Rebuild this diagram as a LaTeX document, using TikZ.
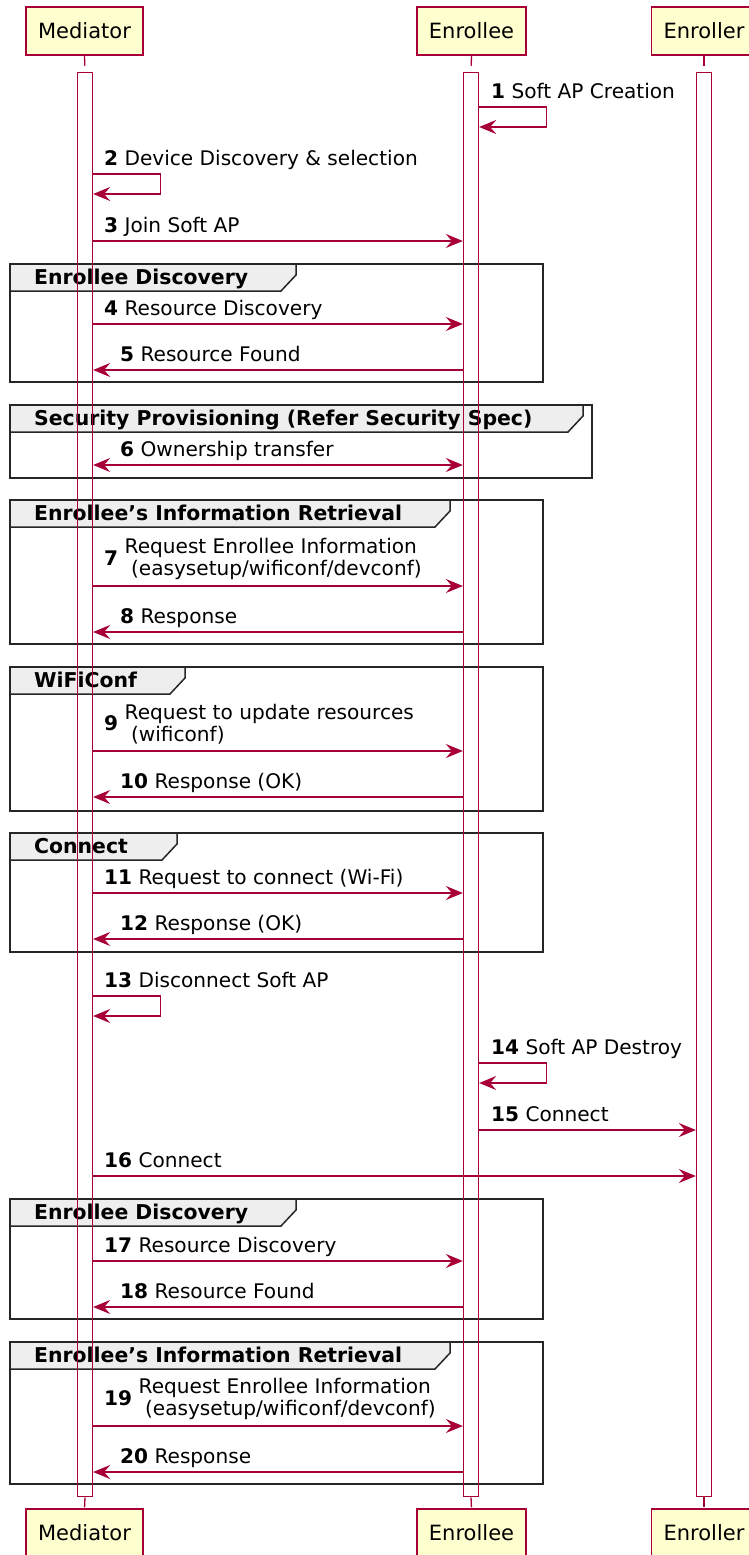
\documentclass[tikz,border=0pt]{standalone}
\usepackage{fontspec}
\setmainfont{DejaVu Sans}
\usepackage{xcolor}
\usepackage{tikz}
\usetikzlibrary{arrows.meta}
\usetikzlibrary{positioning,calc}

\definecolor{umlred}{HTML}{A80036}
\definecolor{umlfill}{HTML}{FEFECE}
\definecolor{grpfill}{HTML}{EEEEEE}

% group frame: name, top, bottom, right, tab right, label
\newcommand{\umlgroup}[6]{%
	\draw[frame] (10,#2) rectangle (#4,#3);
	\draw[frame, fill=grpfill] (10,#2) -- (#5,#2) -- (#5,#2+11) -- (#5-15,#2+27) -- (10,#2+27) -- cycle;
	\node[grplbl] (#1) at (34,#2+20) {#6};
}

\begin{document}
\begin{tikzpicture}[x=1pt, y=-1pt,
		umltip/.tip={Stealth[length=17pt, width=14pt, inset=6pt]},
		actor/.style={draw=umlred, fill=umlfill, line width=1.5pt, minimum height=48, inner xsep=12pt, font=\fontsize{21}{24}\selectfont},
		bar/.style={draw=umlred, line width=1.3pt, minimum width=15, minimum height=1424, anchor=north, inner sep=0},
		life/.style={draw=umlred, line width=1.3pt, dash pattern=on 10pt off 7pt},
		msg/.style={draw=umlred, line width=1.3pt, -umltip},
		lbl/.style={anchor=base west, inner sep=0, align=left, font=\fontsize{20.1}{22}\selectfont},
		frame/.style={draw=black!85, line width=1.5pt},
		grplbl/.style={anchor=base west, inner sep=0, font=\bfseries\fontsize{20.4}{22}\selectfont}]
		\useasboundingbox (0,0) rectangle (748,1555);
		
		% groups
		\umlgroup{g1}{264}{382}{543}{296}{Enrollee Discovery}
		\umlgroup{g2}{405}{478}{592}{583}{Security Provisioning (Refer Security Spec)}
		\umlgroup{g3}{500}{644}{543}{450}{Enrollee’s Information Retrieval}
		\umlgroup{g4}{667}{811}{543}{185}{WiFiConf}
		\umlgroup{g5}{833}{952}{543}{177}{Connect}
		\umlgroup{g6}{1199}{1319}{543}{296}{Enrollee Discovery}
		\umlgroup{g7}{1342}{1484}{543}{450}{Enrollee’s Information Retrieval}
		
		% participants
		\node[actor] (medtop) at (84.5,31) {Mediator};
		\node[actor] (enrtop) at (471.5,31) {Enrollee};
		\node[actor] (erltop) at (704,31) {Enroller};
		\node[actor] (medbot) at (84.5,1533) {Mediator};
		\node[actor] (enrbot) at (471.5,1533) {Enrollee};
		\node[actor] (erlbot) at (704,1533) {Enroller};
		
		\node[bar] (medbar) at (85,72) {};
		\node[bar] (enrbar) at (471,72) {};
		\node[bar] (erlbar) at (704,72) {};
		
		\draw[life] (medtop.south) -- (medbar.north);
		\draw[life] (enrtop.south) -- (enrbar.north);
		\draw[life] (erltop.south) -- (erlbar.north);
		\draw[life] (medbar.south) -- (medbot.north);
		\draw[life] (enrbar.south) -- (enrbot.north);
		\draw[life] (erlbar.south) -- (erlbot.north);
		
		% messages
		\draw[msg] (enrbar.east |- 0,107) -- ++(67,0) -- ++(0,20) -- (enrbar.east |- 0,127);
		\node[lbl] (m1) at (491,98) {\textbf{1} Soft AP Creation};
		\draw[msg] (medbar.east |- 0,174) -- ++(67,0) -- ++(0,20) -- (medbar.east |- 0,194);
		\node[lbl] (m2) at (104,165) {\textbf{2} Device Discovery \& selection};
		\draw[msg] (medbar.east |- 0,241) -- (enrbar.west |- 0,241);
		\node[lbl] (m3) at (104,232) {\textbf{3} Join Soft AP};
		
		\draw[msg] (medbar.east |- 0,324) -- (enrbar.west |- 0,324);
		\node[lbl] (m4) at (104,315) {\textbf{4} Resource Discovery};
		\draw[msg] (enrbar.west |- 0,370) -- (medbar.east |- 0,370);
		\node[lbl] (m5) at (120,361) {\textbf{5} Resource Found};
		
		\draw[msg, umltip-umltip] (medbar.east |- 0,465) -- (enrbar.west |- 0,465);
		\node[lbl] (m6) at (120,456) {\textbf{6} Ownership transfer};
		
		\draw[msg] (medbar.east |- 0,586) -- (enrbar.west |- 0,586);
		\node[lbl] (m7) at (104,565) {\textbf{7}};
		\node[lbl] (m7t) at (124.5,575) {Request Enrollee Information\\\hspace*{6.4pt}(easysetup/wificonf/devconf)};
		\draw[msg] (enrbar.west |- 0,632) -- (medbar.east |- 0,632);
		\node[lbl] (m8) at (120,623) {\textbf{8} Response};
		
		\draw[msg] (medbar.east |- 0,751) -- (enrbar.west |- 0,751);
		\node[lbl] (m9) at (104,730) {\textbf{9}};
		\node[lbl] (m9t) at (124.5,741) {Request to update resources\\\hspace*{6.4pt}(wificonf)};
		\draw[msg] (enrbar.west |- 0,797) -- (medbar.east |- 0,797);
		\node[lbl] (m10) at (120,788) {\textbf{10} Response (OK)};
		
		\draw[msg] (medbar.east |- 0,893) -- (enrbar.west |- 0,893);
		\node[lbl] (m11) at (104,884) {\textbf{11} Request to connect (Wi-Fi)};
		\draw[msg] (enrbar.west |- 0,939) -- (medbar.east |- 0,939);
		\node[lbl] (m12) at (120,930) {\textbf{12} Response (OK)};
		
		\draw[msg] (medbar.east |- 0,996) -- ++(67,0) -- ++(0,20) -- (medbar.east |- 0,1016);
		\node[lbl] (m13) at (104,987) {\textbf{13} Disconnect Soft AP};
		\draw[msg] (enrbar.east |- 0,1063) -- ++(67,0) -- ++(0,20) -- (enrbar.east |- 0,1083);
		\node[lbl] (m14) at (491,1054) {\textbf{14} Soft AP Destroy};
		\draw[msg] (enrbar.east |- 0,1130) -- (erlbar.west |- 0,1130);
		\node[lbl] (m15) at (491,1121) {\textbf{15} Connect};
		\draw[msg] (medbar.east |- 0,1176) -- (erlbar.west |- 0,1176);
		\node[lbl] (m16) at (104,1167) {\textbf{16} Connect};
		
		\draw[msg] (medbar.east |- 0,1261) -- (enrbar.west |- 0,1261);
		\node[lbl] (m17) at (104,1252) {\textbf{17} Resource Discovery};
		\draw[msg] (enrbar.west |- 0,1307) -- (medbar.east |- 0,1307);
		\node[lbl] (m18) at (120,1298) {\textbf{18} Resource Found};
		
		\draw[msg] (medbar.east |- 0,1426) -- (enrbar.west |- 0,1426);
		\node[lbl] (m19) at (104,1405) {\textbf{19}};
		\node[lbl] (m19t) at (138.5,1415) {Request Enrollee Information\\\hspace*{6.4pt}(easysetup/wificonf/devconf)};
		\draw[msg] (enrbar.west |- 0,1472) -- (medbar.east |- 0,1472);
		\node[lbl] (m20) at (120,1463) {\textbf{20} Response};
\end{tikzpicture}
\end{document}
